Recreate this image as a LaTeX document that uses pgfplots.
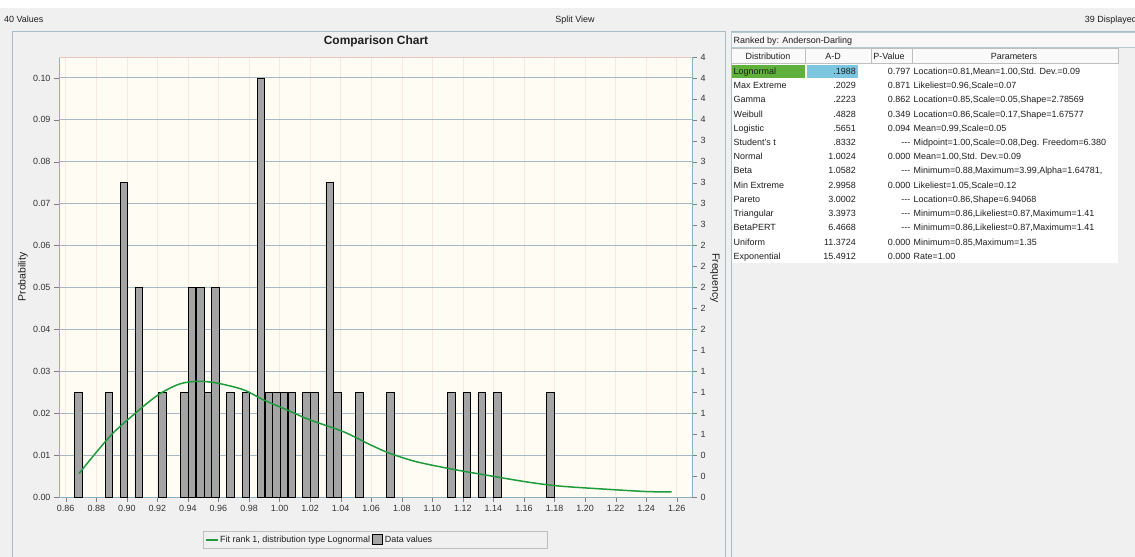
\documentclass[border=0pt]{standalone}
\usepackage{pgfplots}
\pgfplotsset{compat=1.18}
\usepackage{fontspec}
\setmainfont{Liberation Sans}
\definecolor{panelgray}{HTML}{F0F0F0}
\definecolor{plotbg}{HTML}{FFFDF3}
\definecolor{framecol}{HTML}{A8BCC8}
\definecolor{axisline}{HTML}{8FB0C0}
\definecolor{ygrid}{HTML}{A6B9C2}
\definecolor{xgrid}{HTML}{F8E8E2}
\definecolor{topline}{HTML}{E8C8BC}
\definecolor{barfill}{HTML}{A4A4A4}
\definecolor{fitgreen}{HTML}{1E9B3C}
\definecolor{lngreen}{HTML}{5FB03C}
\definecolor{adblue}{HTML}{7CC6E0}
\definecolor{txt}{HTML}{1E1E1E}
\definecolor{ticktxt}{HTML}{333333}
\newcommand{\fs}{\fontsize{9}{10.5}\selectfont}
\newcommand{\trow}[5]{%
  \node[anchor=base west, inner sep=0pt] at (733.5bp,-#1bp) {#2};
  \node[anchor=base east, inner sep=0pt] at (856bp,-#1bp) {#3};
  \node[anchor=base east, inner sep=0pt] at (910.5bp,-#1bp) {#4};
  \node[anchor=base west, inner sep=0pt] at (913.5bp,-#1bp) {#5};}
\begin{document}
\begin{tikzpicture}[font=\fs, text=txt]
\useasboundingbox (0,0) rectangle (1135bp,-557bp);
\fill[white] (0,0) rectangle (1135bp,-557bp);
\fill[panelgray] (0,-8bp) rectangle (1135bp,-557bp);
% top bar texts
\node[anchor=base west, inner sep=0pt] at (4bp,-22bp) {40 Values};
\node[anchor=base, inner sep=0pt] at (575bp,-22bp) {Split View};
\node[anchor=base east, inner sep=0pt] at (1137bp,-22bp) {39 Displayed};
% chart panel
\draw[framecol, fill=panelgray] (12bp,-31bp) rectangle (725bp,-580bp);
\node[font=\bfseries\fontsize{12}{14}\selectfont] at (376bp,-41bp) {Comparison Chart};
\node[rotate=90, font=\fontsize{10.5}{12}\selectfont] at (23bp,-277bp) {Probability};
\node[rotate=-90, font=\fontsize{10.5}{12}\selectfont] at (715bp,-278bp) {Frequency};

\begin{axis}[
  at={(59bp,-497bp)}, anchor=south west,
  scale only axis, width=633bp, height=440bp,
  xmin=0.8556, xmax=1.27, ymin=0, ymax=0.105,
  axis background/.style={fill=plotbg},
  axis line style={draw=axisline},
  xtick={0.86,0.88,0.90,0.92,0.94,0.96,0.98,1.00,1.02,1.04,1.06,1.08,1.10,1.12,1.14,1.16,1.18,1.20,1.22,1.24,1.26},
  ytick={0,0.01,0.02,0.03,0.04,0.05,0.06,0.07,0.08,0.09,0.10},
  xtick pos=bottom, ytick pos=left,
  tick align=outside, major tick length=5bp,
  tick style={draw=gray},
  xmajorgrids, ymajorgrids,
  x grid style={draw=xgrid, line width=0.5pt},
  y grid style={draw=ygrid, line width=1pt},
  xticklabel style={font=\fs, text=ticktxt, /pgf/number format/.cd, fixed, fixed zerofill, precision=2, assume math mode=true},
  yticklabel style={font=\fs, text=ticktxt, /pgf/number format/.cd, fixed, fixed zerofill, precision=2, assume math mode=true},
  legend style={at={(0.5,-0.0773)}, anchor=north, legend columns=2, draw=black!25, fill=panelgray, font=\fs, inner sep=2.5bp, row sep=0pt,
    /tikz/every even column/.append style={column sep=0bp}},
  legend cell align=left,
]
\addlegendimage{legend image code/.code={\fill[fill=fitgreen, draw=none] (0bp,-1bp) rectangle (12bp,1bp);}}
\addlegendentry{Fit rank 1, distribution type Lognormal}
\addlegendimage{legend image code/.code={\draw[fill=barfill, draw=black, line width=0.8pt] (0bp,-5bp) rectangle (10bp,5bp);}}
\addlegendentry{\makebox[158bp][l]{Data values}}
\addplot[ybar, bar width=0.0049, bar shift=0pt, fill=barfill, draw=black, line width=0.8pt, forget plot] coordinates {
(0.8682,0.025) (0.8883,0.025) (0.8980,0.075) (0.9078,0.050) (0.9232,0.025)
(0.9378,0.025) (0.9427,0.050) (0.9481,0.050) (0.9530,0.025) (0.9579,0.050)
(0.9679,0.025) (0.9780,0.025) (0.9879,0.100) (0.9930,0.025) (0.9979,0.025)
(1.0028,0.025) (1.0080,0.025) (1.0175,0.025) (1.0227,0.025) (1.0328,0.075)
(1.0379,0.025) (1.0523,0.025) (1.0726,0.025) (1.1126,0.025) (1.1225,0.025)
(1.1323,0.025) (1.1426,0.025) (1.1774,0.025)
};
\addplot[fitgreen, line width=1.5pt, smooth, forget plot] coordinates {
(0.8687,0.0056) (0.8890,0.0145) (0.9043,0.0196) (0.9206,0.0244) (0.9348,0.0270)
(0.9468,0.0276) (0.9589,0.0272) (0.9763,0.0256) (0.9894,0.0232) (1.0047,0.0208)
(1.0199,0.0184) (1.0417,0.0156) (1.0592,0.0125) (1.0723,0.0104) (1.0898,0.0084)
(1.1137,0.0066) (1.1356,0.0052) (1.1618,0.0036) (1.1836,0.0026) (1.2164,0.0018)
(1.2404,0.0013) (1.2567,0.0012)
};
\end{axis}
\begin{axis}[
  at={(59bp,-497bp)}, anchor=south west,
  scale only axis, width=633bp, height=440bp,
  xmin=0.8556, xmax=1.27, ymin=0, ymax=0.105,
  axis x line=none, axis y line*=right,
  axis line style={draw=axisline},
  tick align=outside, major tick length=5bp, tick style={draw=gray},
  ytick={0,0.005,0.01,0.015,0.02,0.025,0.03,0.035,0.04,0.045,0.05,0.055,0.06,0.065,0.07,0.075,0.08,0.085,0.09,0.095,0.10,0.105},
  yticklabels={0,0,0,1,1,1,1,1,2,2,2,2,2,3,3,3,3,3,4,4,4,4},
  yticklabel style={font=\fs, text=ticktxt},
]
\addplot[draw=none, forget plot] coordinates {(1,0)};
\end{axis}
\draw[topline, line width=0.6pt] (59bp,-57bp) -- (692bp,-57bp);

% table panel
\draw[framecol, fill=panelgray] (731bp,-31bp) rectangle (1150bp,-580bp);
\draw[framecol!80, fill=black!3] (731bp,-32bp) rectangle (1150bp,-47bp);
\node[anchor=base west, inner sep=0pt] at (733.5bp,-43.3bp) {Ranked by: Anderson-Darling};
\fill[white] (731.5bp,-48bp) rectangle (1118bp,-263bp);
\draw[black!25, fill=black!2] (731.5bp,-48bp) rectangle (1118bp,-63.5bp);
\foreach \x in {805,871,912} {\draw[black!25] (\x bp,-48bp) -- (\x bp,-63.5bp);}
\node[anchor=base, inner sep=0pt] at (768bp,-59.8bp) {Distribution};
\node[anchor=base, inner sep=0pt] at (833bp,-59.8bp) {A-D};
\node[anchor=base, inner sep=0pt] at (889bp,-59.8bp) {P-Value};
\node[anchor=base, inner sep=0pt] at (1014bp,-59.8bp) {Parameters};
\fill[lngreen] (731.5bp,-64.5bp) rectangle (805bp,-77.5bp);
\fill[adblue] (807bp,-64.5bp) rectangle (857.5bp,-77.5bp);
\begin{scope}
\clip (731bp,-63bp) rectangle (1118bp,-263bp);
\trow{74.3}{Lognormal}{.1988}{0.797}{Location=0.81,Mean=1.00,Std. Dev.=0.09}
\trow{88.5}{Max Extreme}{.2029}{0.871}{Likeliest=0.96,Scale=0.07}
\trow{102.8}{Gamma}{.2223}{0.862}{Location=0.85,Scale=0.05,Shape=2.78569}
\trow{117.0}{Weibull}{.4828}{0.349}{Location=0.86,Scale=0.17,Shape=1.67577}
\trow{131.2}{Logistic}{.5651}{0.094}{Mean=0.99,Scale=0.05}
\trow{145.5}{Student's t}{.8332}{{-}{-}{-}}{Midpoint=1.00,Scale=0.08,Deg. Freedom=6.380}
\trow{159.7}{Normal}{1.0024}{0.000}{Mean=1.00,Std. Dev.=0.09}
\trow{173.9}{Beta}{1.0582}{{-}{-}{-}}{Minimum=0.88,Maximum=3.99,Alpha=1.64781,}
\trow{188.1}{Min Extreme}{2.9958}{0.000}{Likeliest=1.05,Scale=0.12}
\trow{202.4}{Pareto}{3.0002}{{-}{-}{-}}{Location=0.86,Shape=6.94068}
\trow{216.6}{Triangular}{3.3973}{{-}{-}{-}}{Minimum=0.86,Likeliest=0.87,Maximum=1.41}
\trow{230.8}{BetaPERT}{6.4668}{{-}{-}{-}}{Minimum=0.86,Likeliest=0.87,Maximum=1.41}
\trow{245.1}{Uniform}{11.3724}{0.000}{Minimum=0.85,Maximum=1.35}
\trow{259.3}{Exponential}{15.4912}{0.000}{Rate=1.00}
\end{scope}
\end{tikzpicture}
\end{document}
